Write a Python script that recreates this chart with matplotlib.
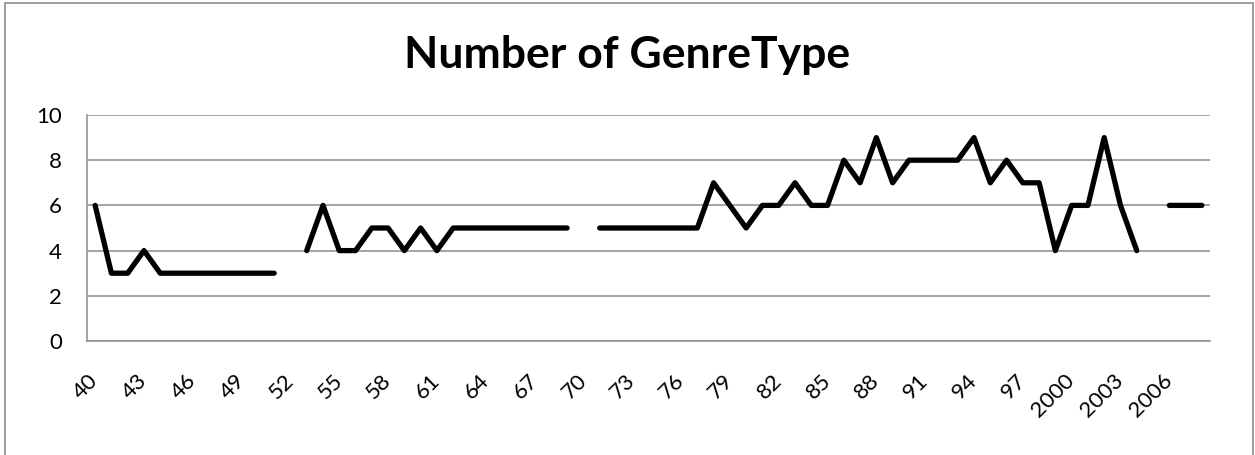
import numpy as np
import matplotlib
matplotlib.use("Agg")
import matplotlib.pyplot as plt
from matplotlib.patches import Rectangle

# Categories: 40..99 then 2000..2008
categories = [str(y) for y in range(40, 100)] + [str(y) for y in range(2000, 2009)]

genre_counts = [
    6, 3, 3, 4, 3, 3, 3, 3, 3, 3,          # 40-49
    3, 3, np.nan, 4, 6, 4, 4, 5, 5, 4,     # 50-59
    5, 4, 5, 5, 5, 5, 5, 5, 5, 5,          # 60-69
    np.nan, 5, 5, 5, 5, 5, 5, 5, 7, 6,     # 70-79
    5, 6, 6, 7, 6, 6, 8, 7, 9, 7,          # 80-89
    8, 8, 8, 8, 9, 7, 8, 7, 7, 4,          # 90-99
    6, 6, 9, 6, 4, np.nan, 6, 6, 6,        # 2000-2008
]

title = "Number of GenreType"
y_ticks = [0, 2, 4, 6, 8, 10]

plt.rcParams['font.family'] = ['Lato', 'DejaVu Sans']

fig = plt.figure(figsize=(12.55, 4.55), dpi=100)
ax = fig.add_axes([87 / 1255, 1 - 341 / 455, (1210 - 87) / 1255, (341 - 115) / 455])

x = np.arange(len(categories))
ax.plot(x, genre_counts, color='black', linewidth=3.8,
        solid_capstyle='round', solid_joinstyle='round', zorder=3)

ax.set_xlim(-0.5, len(categories) - 0.5)
ax.set_ylim(0, 10)
ax.set_yticks(y_ticks)
ax.set_yticklabels([str(v) for v in y_ticks], fontsize=16)
ax.yaxis.grid(True, color='#8c8c8c', linewidth=1.1)
ax.set_axisbelow(True)

tick_idx = list(range(0, len(categories), 3))
ax.set_xticks(tick_idx)
ax.set_xticklabels([categories[i] for i in tick_idx], rotation=45, ha='right',
                   va='center', rotation_mode='anchor', fontsize=16)
ax.tick_params(axis='x', length=0, pad=26)
ax.tick_params(axis='y', length=0, pad=18)

for s in ['top', 'right']:
    ax.spines[s].set_visible(False)
for s in ['left', 'bottom']:
    ax.spines[s].set_color('#8c8c8c')
    ax.spines[s].set_linewidth(1.1)

fig.text(0.5, 1 - 55 / 455, title, ha='center', va='center',
         fontsize=32, fontweight='bold')

fig.patches.append(Rectangle((5 / 1255, -0.05), (1253 - 5) / 1255, 1.05 - 3 / 455,
                             transform=fig.transFigure, fill=False,
                             edgecolor='#8c8c8c', linewidth=1.2))

fig.savefig('out.png', dpi=100)
